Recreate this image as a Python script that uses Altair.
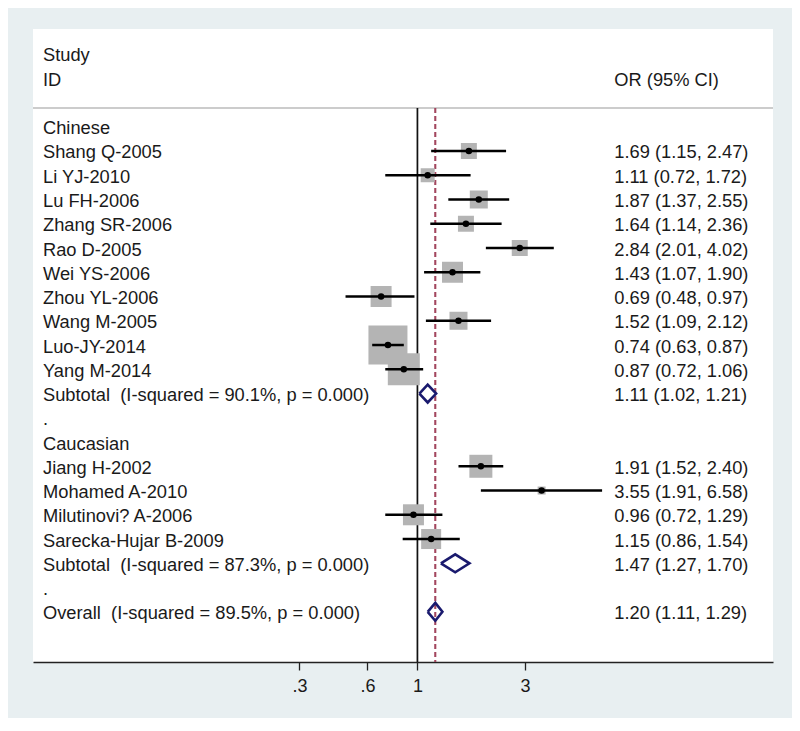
import altair as alt
import pandas as pd

# ---------------- data ----------------
groups = ["Chinese", "Caucasian"]
studies = ["Shang Q-2005", "Li YJ-2010", "Lu FH-2006", "Zhang SR-2006", "Rao D-2005",
           "Wei YS-2006", "Zhou YL-2006", "Wang M-2005", "Luo-JY-2014", "Yang M-2014",
           "Jiang H-2002", "Mohamed A-2010", "Milutinovi? A-2006", "Sarecka-Hujar B-2009"]
study_group = ["Chinese"] * 10 + ["Caucasian"] * 4
or_est = [1.69, 1.11, 1.87, 1.64, 2.84, 1.43, 0.69, 1.52, 0.74, 0.87, 1.91, 3.55, 0.96, 1.15]
or_lo = [1.15, 0.72, 1.37, 1.14, 2.01, 1.07, 0.48, 1.09, 0.63, 0.72, 1.52, 1.91, 0.72, 0.86]
or_hi = [2.47, 1.72, 2.55, 2.36, 4.02, 1.90, 0.97, 2.12, 0.87, 1.06, 2.40, 6.58, 1.29, 1.54]
weights = [3.95, 3.03, 5.01, 3.95, 3.95, 6.81, 6.81, 5.01, 23.50, 15.82, 8.17, 0.99, 6.81, 6.18]

subtotal_i2 = ["90.1%", "87.3%"]
subtotal_est = [1.11, 1.47]
subtotal_lo = [1.02, 1.27]
subtotal_hi = [1.21, 1.70]
overall_i2 = "89.5%"
overall_est, overall_lo, overall_hi = 1.20, 1.11, 1.29

x_ticks = [0.3, 0.6, 1, 3]

# ---------------- build rows ----------------
def ci_text(e, l, h):
    return f"{e:.2f} ({l:.2f}, {h:.2f})"

text_rows = []    # label rows
study_rows = []   # boxes + CI
pooled_rows = []  # diamonds
row = 0
for gi, g in enumerate(groups):
    text_rows.append(dict(row=row, label=g, ci=""))
    row += 1
    for s, sg, e, l, h, w in zip(studies, study_group, or_est, or_lo, or_hi, weights):
        if sg != g:
            continue
        text_rows.append(dict(row=row, label=s, ci=ci_text(e, l, h)))
        study_rows.append(dict(row=row, est=e, lo=l, hi=h, weight=w))
        row += 1
    text_rows.append(dict(row=row,
                          label=f"Subtotal\u00a0 (I-squared = {subtotal_i2[gi]}, p = 0.000)",
                          ci=ci_text(subtotal_est[gi], subtotal_lo[gi], subtotal_hi[gi])))
    pooled_rows.append(dict(row=row, est=subtotal_est[gi], lo=subtotal_lo[gi], hi=subtotal_hi[gi], grp=f"g{gi}"))
    row += 1
    text_rows.append(dict(row=row, label=".", ci=""))
    row += 1
text_rows.append(dict(row=row, label=f"Overall\u00a0 (I-squared = {overall_i2}, p = 0.000)",
                      ci=ci_text(overall_est, overall_lo, overall_hi)))
pooled_rows.append(dict(row=row, est=overall_est, lo=overall_lo, hi=overall_hi, grp="overall"))

text_df = pd.DataFrame(text_rows)
study_df = pd.DataFrame(study_rows)

HALF = 0.37
diamond_pts = []
for p in pooled_rows:
    pts = [(p["lo"], p["row"]), (p["est"], p["row"] - HALF), (p["hi"], p["row"]),
           (p["est"], p["row"] + HALF), (p["lo"], p["row"])]
    for k, (xv, yv) in enumerate(pts):
        diamond_pts.append(dict(grp=p["grp"], ord=k, x=xv, y=yv))
diamond_df = pd.DataFrame(diamond_pts)

header_df = pd.DataFrame([dict(row=-3, label="Study"), dict(row=-2, label="ID")])
header_ci_df = pd.DataFrame([dict(row=-2, label="OR (95% CI)")])

# ---------------- scales / styling ----------------
FONT = "Liberation Sans"
FS = 18.3
TXT = "#1a1a1a"
ROW_TOP = -4.03
ROW_BOTTOM = 22.07
SEP = -0.77

xscale = alt.Scale(type="log", domain=[0.01978, 37.64], nice=False)
yscale = alt.Scale(domain=[ROW_TOP, ROW_BOTTOM], reverse=True, nice=False, zero=False)
xaxis = alt.Axis(values=x_ticks,
                 labelExpr="datum.value < 1 ? '.' + round(datum.value*10) : '' + datum.value",
                 title=None, grid=False, tickSize=8, tickWidth=1.3, tickColor="#222222",
                 domainColor="#222222", domainWidth=1.5, labelFontSize=18, labelFont=FONT,
                 labelColor=TXT, labelPadding=7, labelFlush=False, labelOverlap=False)

X = lambda f: alt.X(f, type="quantitative", scale=xscale, axis=xaxis)
Y = lambda f: alt.Y(f, type="quantitative", scale=yscale, axis=None)

sep = alt.Chart(header_df).mark_rule(color="#c8c8c8", strokeWidth=1.5).encode(
    y=alt.Y(datum=SEP, type="quantitative", scale=yscale, axis=None))

null_line = alt.Chart(header_df).mark_rule(color="#111111", strokeWidth=1.4).encode(
    x=alt.X(datum=1, type="quantitative", scale=xscale, axis=xaxis),
    y=alt.Y(datum=SEP, type="quantitative", scale=yscale, axis=None),
    y2=alt.Y2(datum=ROW_BOTTOM))

overall_line = alt.Chart(header_df).mark_rule(color="#a3475f", strokeWidth=1.7, strokeDash=[5, 3]).encode(
    x=alt.X(datum=overall_est, type="quantitative", scale=xscale, axis=xaxis),
    y=alt.Y(datum=SEP, type="quantitative", scale=yscale, axis=None),
    y2=alt.Y2(datum=ROW_BOTTOM))

boxes = alt.Chart(study_df).mark_square(color="#b4b4b4", opacity=1).encode(
    x=X("est"), y=Y("row"),
    size=alt.Size("weight:Q", scale=alt.Scale(domain=[0, 23.5], range=[0, 1521]), legend=None))

cis = alt.Chart(study_df).mark_rule(color="black", strokeWidth=2.5).encode(
    x=X("lo"), x2="hi", y=Y("row"))

dots = alt.Chart(study_df).mark_point(filled=True, shape="circle", size=42, color="black", opacity=1).encode(
    x=X("est"), y=Y("row"))

diamonds = alt.Chart(diamond_df).mark_line(color="#1a1a6e", strokeWidth=2.6, strokeJoin="miter").encode(
    x=X("x"), y=Y("y"), order="ord:Q", detail="grp:N")

labels = alt.Chart(text_df).mark_text(align="left", baseline="alphabetic", dy=7.5,
                                      font=FONT, fontSize=FS, color=TXT).encode(
    x=alt.value(10), y=Y("row"), text="label:N")

cis_text = alt.Chart(text_df).mark_text(align="left", baseline="alphabetic", dy=7.5,
                                        font=FONT, fontSize=FS, color=TXT).encode(
    x=alt.value(581.3), y=Y("row"), text="ci:N")

head = alt.Chart(header_df).mark_text(align="left", baseline="alphabetic", dy=7.5,
                                      font=FONT, fontSize=FS, color=TXT).encode(
    x=alt.value(10), y=Y("row"), text="label:N")

head_ci = alt.Chart(header_ci_df).mark_text(align="left", baseline="alphabetic", dy=7.5,
                                            font=FONT, fontSize=FS, color=TXT).encode(
    x=alt.value(581.3), y=Y("row"), text="label:N")

chart = alt.layer(sep, null_line, overall_line, boxes, cis, dots, diamonds,
                  labels, cis_text, head, head_ci).properties(
    width=740, height=633,
    autosize=alt.AutoSizeParams(type="none"),
    padding={"left": 25, "top": 21, "right": 19, "bottom": 56},
    background="#e8eff1",
).configure_view(stroke=None, fill="white")

chart.save("out.html", embed_options={"renderer": "svg", "actions": False})
